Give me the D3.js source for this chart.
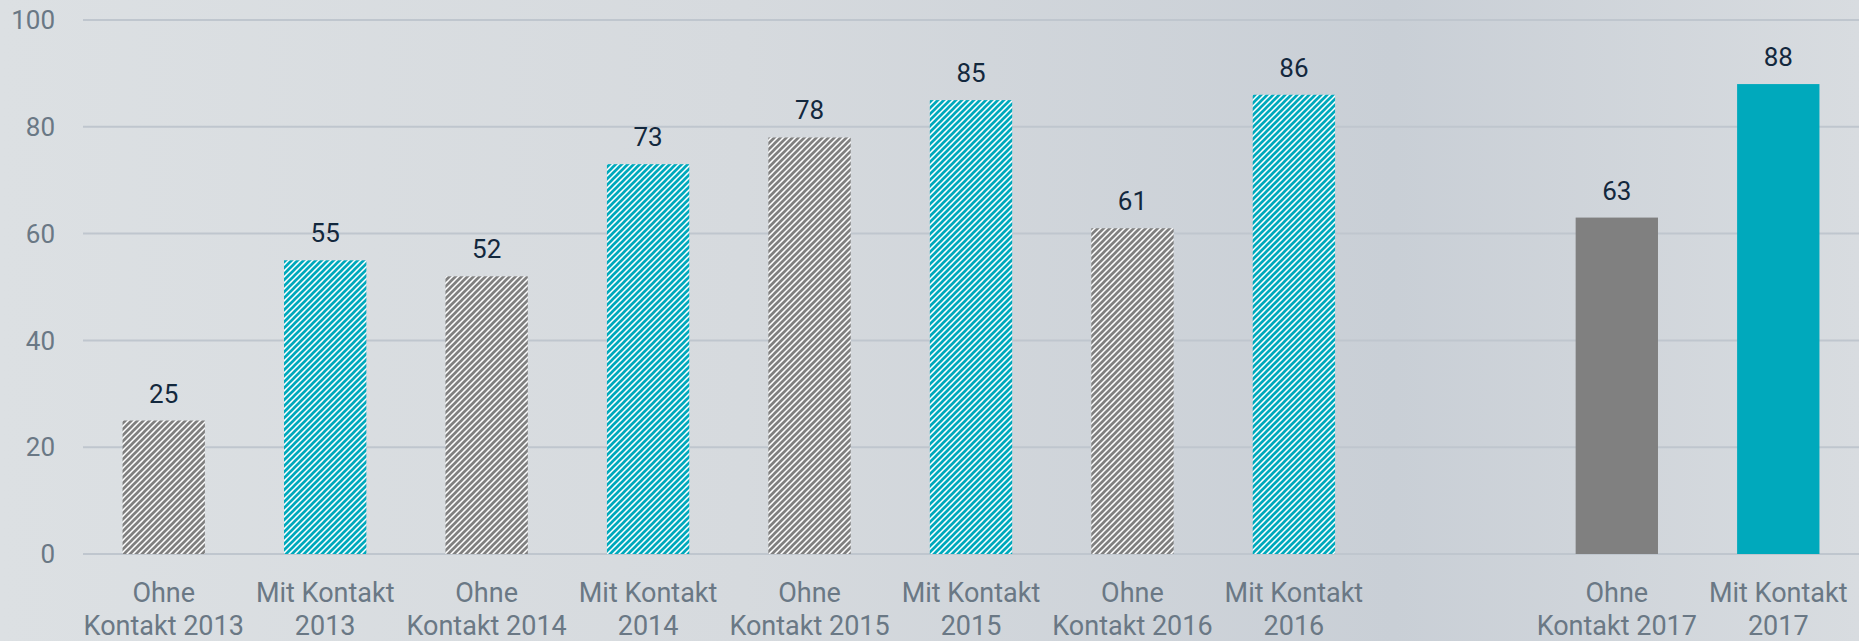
<!DOCTYPE html>
<html>
  <head>
    <meta http-equiv="Content-Type" content="text/html;charset=utf-8">
    <title>Kontakt</title>
    <script src="https://d3js.org/d3.v7.min.js"></script>
    <style>
      html, body {
        margin: 0;
        padding: 0;
        width: 100%;
        height: 100%;
        overflow: hidden;
      }
      text {
        font-family: Roboto, "Noto Sans", sans-serif;
      }
    </style>
  </head>
  <body>
<script type="text/javascript">

// data
var categories = ["Ohne Kontakt 2013", "Mit Kontakt 2013", "Ohne Kontakt 2014", "Mit Kontakt 2014",
                  "Ohne Kontakt 2015", "Mit Kontakt 2015", "Ohne Kontakt 2016", "Mit Kontakt 2016",
                  "", "Ohne Kontakt 2017", "Mit Kontakt 2017"];
var labelLines = [["Ohne", "Kontakt 2013"], ["Mit Kontakt", "2013"], ["Ohne", "Kontakt 2014"], ["Mit Kontakt", "2014"],
                  ["Ohne", "Kontakt 2015"], ["Mit Kontakt", "2015"], ["Ohne", "Kontakt 2016"], ["Mit Kontakt", "2016"],
                  [], ["Ohne", "Kontakt 2017"], ["Mit Kontakt", "2017"]];
var values = [25, 55, 52, 73, 78, 85, 61, 86, null, 63, 88];
var kind = ["ohne", "mit", "ohne", "mit", "ohne", "mit", "ohne", "mit", null, "ohne", "mit"];
var hatched = [true, true, true, true, true, true, true, true, false, false, false];
var yTicks = [0, 20, 40, 60, 80, 100];

var W = 1859, H = 641;
var grey = "#808080", teal = "#00a9bc";

var svg = d3.select("body").append("svg")
  .attr("width", W)
  .attr("height", H);

var defs = svg.append("defs");

// background gradient
var bg = defs.append("linearGradient").attr("id", "bg")
  .attr("x1", "0%").attr("x2", "100%").attr("y1", "0%").attr("y2", "0%");
bg.append("stop").attr("offset", "0%").attr("stop-color", "#dce0e3");
bg.append("stop").attr("offset", "40%").attr("stop-color", "#d6dade");
bg.append("stop").attr("offset", "75%").attr("stop-color", "#c9cfd6");
bg.append("stop").attr("offset", "100%").attr("stop-color", "#d8dce0");

svg.append("rect").attr("width", W).attr("height", H).attr("fill", "url(#bg)");

// hatch patterns
function hatch(id, col) {
  var p = defs.append("pattern").attr("id", id)
    .attr("patternUnits", "userSpaceOnUse")
    .attr("width", 6).attr("height", 6);
  p.append("rect").attr("width", 6).attr("height", 6).attr("fill", "#fff");
  p.append("path")
    .attr("d", "M-1,1 L1,-1 M0,6 L6,0 M5,7 L7,5")
    .attr("stroke", col).attr("stroke-width", 2.7);
}
hatch("hatchGrey", grey);
hatch("hatchTeal", teal);

var x = d3.scaleBand()
  .domain(categories.map(function(d, i) { return i; }))
  .range([83, W])
  .paddingInner(0.49)
  .paddingOuter(0.245);

var y = d3.scaleLinear()
  .domain([0, 100])
  .range([554, 20]);

// grid
svg.selectAll(".grid").data(yTicks).enter().append("line")
  .attr("x1", 83).attr("x2", W)
  .attr("y1", function(d) { return y(d); })
  .attr("y2", function(d) { return y(d); })
  .attr("stroke", "#bfc6ce")
  .attr("stroke-width", 2);

// y axis labels
svg.selectAll(".ytick").data(yTicks).enter().append("text")
  .attr("x", 55)
  .attr("y", function(d) { return y(d); })
  .attr("dy", "0.35em")
  .attr("text-anchor", "end")
  .attr("fill", "#6a7885")
  .style("font-size", "26px")
  .text(function(d) { return d; });

var data = values.map(function(v, i) {
  return { i: i, v: v, kind: kind[i], hatched: hatched[i], lines: labelLines[i] };
});
var bars = data.filter(function(d) { return d.v !== null; });

svg.selectAll(".bar").data(bars).enter().append("rect")
  .attr("x", function(d) { return x(d.i); })
  .attr("width", x.bandwidth())
  .attr("y", function(d) { return y(d.v); })
  .attr("height", function(d) { return y(0) - y(d.v); })
  .attr("fill", function(d) {
    if (d.hatched) return d.kind == "mit" ? "url(#hatchTeal)" : "url(#hatchGrey)";
    return d.kind == "mit" ? teal : grey;
  });

// value labels
svg.selectAll(".val").data(bars).enter().append("text")
  .attr("x", function(d) { return x(d.i) + x.bandwidth() / 2; })
  .attr("y", function(d) { return y(d.v) - 18; })
  .attr("text-anchor", "middle")
  .attr("fill", "#13283d")
  .style("font-size", "26px")
  .text(function(d) { return d.v; });

// x labels
var xl = svg.selectAll(".xl").data(data).enter().append("text")
  .attr("text-anchor", "middle")
  .attr("fill", "#6a7885")
  .style("font-size", "27px");
xl.selectAll("tspan").data(function(d) { return d.lines.map(function(t, k) { return { t: t, k: k, i: d.i }; }); })
  .enter().append("tspan")
  .attr("x", function(d) { return x(d.i) + x.bandwidth() / 2; })
  .attr("y", function(d) { return 602 + d.k * 33; })
  .text(function(d) { return d.t; });

</script>
  </body>
</html>
